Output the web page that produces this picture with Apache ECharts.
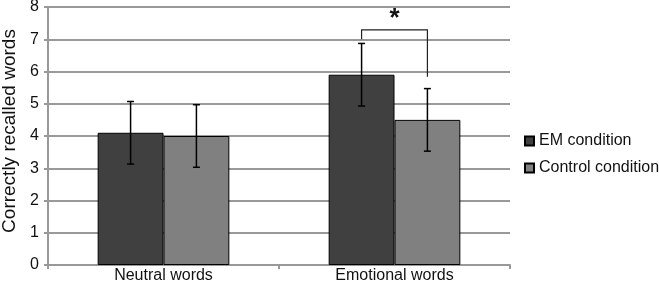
<!DOCTYPE html>
<html><head><meta charset="utf-8">
<script src="https://cdn.jsdelivr.net/npm/echarts@6/dist/echarts.min.js"></script>
<style>html,body{margin:0;padding:0;background:#fff}#c{width:659px;height:283px}</style>
</head><body><div id="c"></div>
<script>
const categories = ['Neutral words', 'Emotional words'];
const seriesNames = ['EM condition', 'Control condition'];
const emValues = [4.1, 5.9];
const controlValues = [4.0, 4.5];
const emErr = [0.97, 0.97];
const controlErr = [0.97, 0.97];
// significance bracket for Emotional words: [left leg bottom, bar top, right leg bottom]
const bracket = [7.0, 7.29, 5.84];
const yTicks = [0, 1, 2, 3, 4, 5, 6, 7, 8];

const FONT = 'Liberation Sans, Arial, sans-serif';
const chart = echarts.init(document.getElementById('c'));

function errSeries(vals, errs, idx) {
  return {
    type: 'custom', z: 5,
    data: vals.map((v, i) => [i, v, errs[i]]),
    renderItem: function (params, api) {
      const i = api.value(0), v = api.value(1), e = api.value(2);
      const band = api.size([1, 0])[0];
      const bw = band * 0.57 / 2;
      const xc = api.coord([i, v])[0] + (idx === 0 ? -bw / 2 : bw / 2);
      const yt = api.coord([i, v + e])[1];
      const yb = api.coord([i, v - e])[1];
      const st = { stroke: '#000', lineWidth: 1.5 };
      return { type: 'group', children: [
        { type: 'line', shape: { x1: xc, y1: yt, x2: xc, y2: yb }, style: st },
        { type: 'line', shape: { x1: xc - 3.5, y1: yt, x2: xc + 3.5, y2: yt }, style: st },
        { type: 'line', shape: { x1: xc - 3.5, y1: yb, x2: xc + 3.5, y2: yb }, style: st }
      ]};
    }
  };
}

chart.setOption({
  animation: false,
  textStyle: { fontFamily: FONT },
  grid: { left: 48, right: 149, top: 7, bottom: 18, containLabel: false, outerBoundsMode: 'none' },
  legend: {
    orient: 'vertical', left: 524, top: 133, padding: 0, itemWidth: 9, itemHeight: 9, itemGap: 11,
    data: seriesNames,
    textStyle: { fontSize: 16, color: '#111', fontFamily: FONT },
    icon: 'rect'
  },
  xAxis: {
    type: 'category', data: categories,
    axisLine: { lineStyle: { color: '#999', width: 2 } },
    axisTick: { show: true, length: 4, lineStyle: { color: '#999', width: 2 } },
    axisLabel: { fontSize: 16, color: '#111', margin: 3, fontFamily: FONT }
  },
  yAxis: {
    type: 'value', min: 0, max: 8, interval: 1,
    name: 'Correctly recalled words', nameLocation: 'middle', nameGap: 25,
    nameTextStyle: { fontSize: 19, color: '#111', fontFamily: FONT, padding: [0, 0, 0, 10] },
    axisLine: { show: true, lineStyle: { color: '#999', width: 2 } },
    axisTick: { show: true, length: 4, lineStyle: { color: '#999', width: 2 } },
    axisLabel: { fontSize: 16, color: '#111', margin: 9, fontFamily: FONT,
      formatter: v => yTicks.includes(v) ? String(v) : '' },
    splitLine: { lineStyle: { color: '#999', width: 2 } }
  },
  series: [
    { name: seriesNames[0], type: 'bar', data: emValues, barGap: '0%', barCategoryGap: '43%',
      itemStyle: { color: '#404040', borderColor: '#000', borderWidth: 1 } },
    { name: seriesNames[1], type: 'bar', data: controlValues,
      itemStyle: { color: '#808080', borderColor: '#000', borderWidth: 1 } },
    errSeries(emValues, emErr, 0),
    errSeries(controlValues, controlErr, 1),
    {
      type: 'custom', z: 5,
      data: [[1, bracket[0], bracket[1], bracket[2]]],
      renderItem: function (params, api) {
        const i = api.value(0);
        const band = api.size([1, 0])[0];
        const bw = band * 0.57 / 2;
        const xm = api.coord([i, 0])[0];
        const xl = xm - bw / 2, xr = xm + bw / 2;
        const yl = api.coord([i, api.value(1)])[1];
        const yt = api.coord([i, api.value(2)])[1];
        const yr = api.coord([i, api.value(3)])[1];
        const st = { stroke: '#222', lineWidth: 1.2 };
        return { type: 'group', children: [
          { type: 'polyline', shape: { points: [[xl, yl], [xl, yt], [xr, yt], [xr, yr]] }, style: Object.assign({ fill: null }, st) },
          { type: 'text', style: { text: '*', x: xm, y: yt + 2, textAlign: 'center', textVerticalAlign: 'bottom', font: 'bold 26px ' + FONT, fill: '#111' } }
        ]};
      }
    }
  ]
});
</script></body></html>
